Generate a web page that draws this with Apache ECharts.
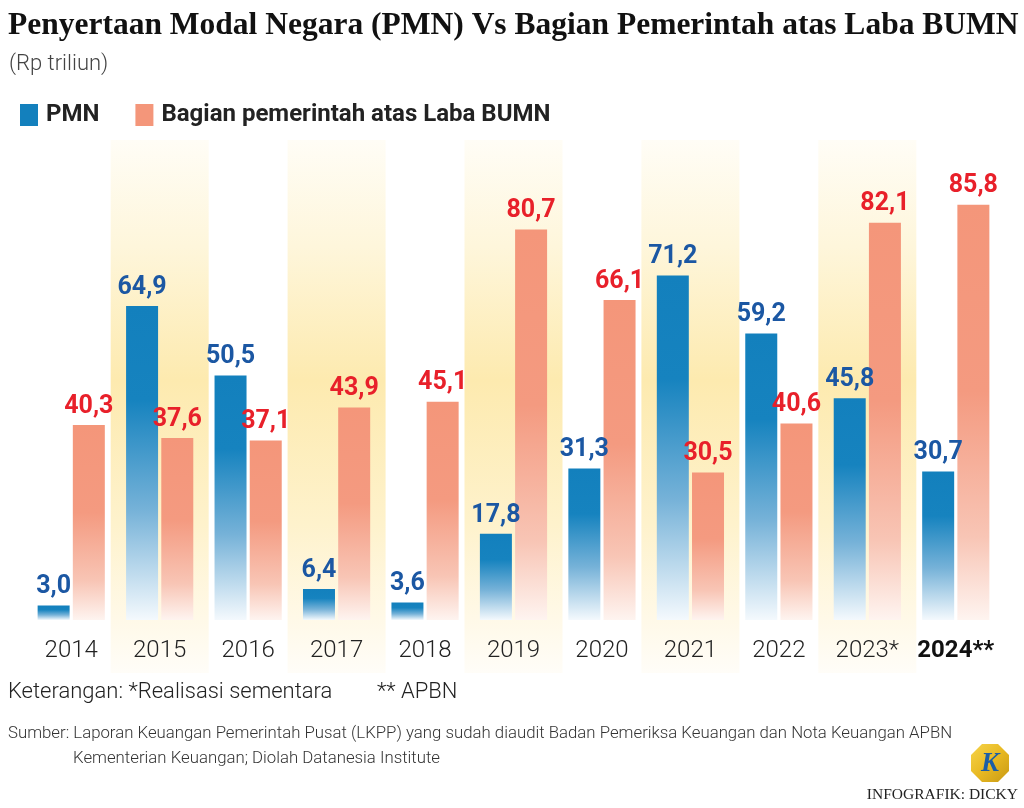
<!DOCTYPE html>
<html>
<head>
<meta charset="utf-8">
<script src="https://cdn.jsdelivr.net/npm/echarts@6/dist/echarts.min.js"></script>
<style>
html,body{margin:0;padding:0;background:#fff;}
#chart{width:1024px;height:808px;}
</style>
</head>
<body>
<div id="chart"></div>
<script>
// ---- data ----
var years = ['2014','2015','2016','2017','2018','2019','2020','2021','2022','2023','2024'];
var yearLabels = ['2014','2015','2016','2017','2018','2019','2020','2021','2022','2023*','2024**'];
var pmn = [3.0, 64.9, 50.5, 6.4, 3.6, 17.8, 31.3, 71.2, 59.2, 45.8, 30.7];
var laba = [40.3, 37.6, 37.1, 43.9, 45.1, 80.7, 66.1, 30.5, 40.6, 82.1, 85.8];
var highlightYears = ['2015','2017','2019','2021','2023'];
var seriesNames = ['PMN', 'Bagian pemerintah atas Laba BUMN'];

var chart = echarts.init(document.getElementById('chart'), null, {renderer:'canvas'});

function fmt(v){ return v.toFixed(1).replace('.', ','); }

var bandData = years.map(function(y){ return highlightYears.indexOf(y) >= 0 ? 1 : '-'; });

var pmnGrad = new echarts.graphic.LinearGradient(0,0,0,1,[
  {offset:0,color:'#1380BD'},{offset:0.3,color:'#1683BF'},{offset:0.65,color:'#76B2D8'},{offset:1,color:'#F4F9FD'}]);
var labaGrad = new echarts.graphic.LinearGradient(0,0,0,1,[
  {offset:0,color:'#F4967A'},{offset:0.45,color:'#F49A80'},{offset:0.8,color:'#F8C5B5'},{offset:1,color:'#FEF4F0'}]);
var bandGrad = new echarts.graphic.LinearGradient(0,0,0,1,[
  {offset:0,color:'#FFFDF6'},{offset:0.2,color:'#FEF6DB'},{offset:0.45,color:'#FDEAAF'},{offset:0.72,color:'#FEF2CC'},{offset:0.9,color:'#FFF9E8'},{offset:1,color:'#FFFDF8'}]);

var option = {
  animation:false,
  backgroundColor:'#ffffff',
  textStyle:{fontFamily:'Roboto'},
  legend:{
    left:15, top:98, itemWidth:18, itemHeight:22, itemGap:36,
    textStyle:{fontFamily:'Roboto', fontWeight:'bold', fontSize:24, color:'#222', padding:[0,0,0,3]},
    data:[
      {name:seriesNames[0], icon:'rect', itemStyle:{color:'#1380BD'}},
      {name:seriesNames[1], icon:'rect', itemStyle:{color:'#F4967A'}}
    ]
  },
  grid:[
    {left:27, right:24, top:136, bottom:188},
    {left:27, right:24, top:140, bottom:135}
  ],
  xAxis:[
    {type:'category', gridIndex:0, data:years,
      axisLine:{show:false}, axisTick:{show:false},
      axisLabel:{margin:19, interval:0,
        formatter:function(v, i){ var l = yearLabels[i]; return i === years.length-1 ? '{b|'+l+'}' : '{n|'+l+'}'; },
        rich:{
          n:{fontFamily:'Roboto', fontWeight:300, fontSize:24, color:'#222'},
          b:{fontFamily:'Roboto', fontWeight:'bold', fontSize:24, color:'#111'}
        }}
    },
    {type:'category', gridIndex:1, data:years, show:false}
  ],
  yAxis:[
    {type:'value', gridIndex:0, min:0, max:100, show:false, splitLine:{show:false}},
    {type:'value', gridIndex:1, min:0, max:1, show:false, splitLine:{show:false}}
  ],
  series:[
    {type:'bar', xAxisIndex:1, yAxisIndex:1, data:bandData, barWidth:98, silent:true, z:0,
      itemStyle:{color:bandGrad}, legendHoverLink:false},
    {name:seriesNames[0], type:'bar', data:pmn, barWidth:32, barGap:'10%', z:2,
      itemStyle:{color:pmnGrad},
      label:{show:true, position:'top', distance:6, formatter:function(p){return fmt(p.value);},
        fontFamily:'Roboto', fontWeight:'bold', fontSize:25, color:'#1B57A3'}},
    {name:seriesNames[1], type:'bar', data:laba, barWidth:32, barGap:'10%', z:2,
      itemStyle:{color:labaGrad},
      label:{show:true, position:'top', distance:6, formatter:function(p){return fmt(p.value);},
        fontFamily:'Roboto', fontWeight:'bold', fontSize:25, color:'#E8202A'}}
  ],
  graphic:[
    {type:'text', left:8, top:10, style:{text:'Penyertaan Modal Negara (PMN) Vs Bagian Pemerintah atas Laba BUMN',
      font:'bold 31.5px "Liberation Serif", serif', fill:'#111'}},
    {type:'text', left:9, top:53, style:{text:'(Rp triliun)', font:'300 22px Roboto', fill:'#444'}},
    {type:'text', left:8, top:681, style:{text:'Keterangan: *Realisasi sementara', font:'300 22px Roboto', fill:'#222'}},
    {type:'text', left:377, top:681, style:{text:'** APBN', font:'300 22px Roboto', fill:'#222'}},
    {type:'text', left:8, top:725, style:{text:'Sumber: Laporan Keuangan Pemerintah Pusat (LKPP) yang sudah diaudit Badan Pemeriksa Keuangan dan Nota Keuangan APBN', font:'300 16.8px Roboto', fill:'#333'}},
    {type:'text', left:73, top:750, style:{text:'Kementerian Keuangan; Diolah Datanesia Institute', font:'300 16.8px Roboto', fill:'#333'}},
    {type:'text', right:6, top:787, style:{text:'INFOGRAFIK: DICKY', font:'15.5px "Liberation Serif", serif', fill:'#222'}},
    {type:'group', left:971, top:744, children:[
      {type:'polygon', shape:{points:[[11,0],[27,0],[38,11],[38,27],[27,38],[11,38],[0,27],[0,11]]},
        style:{fill:new echarts.graphic.LinearGradient(0,0,1,1,[{offset:0,color:'#F6D44A'},{offset:0.5,color:'#E8B923'},{offset:1,color:'#C99A14'}])}},
      {type:'text', style:{text:'K', x:19, y:20, align:'center', verticalAlign:'middle', font:'italic bold 27px "Liberation Serif", serif', fill:'#1B5EA6'}}
    ]}
  ]
};
chart.setOption(option);
</script>
</body>
</html>
